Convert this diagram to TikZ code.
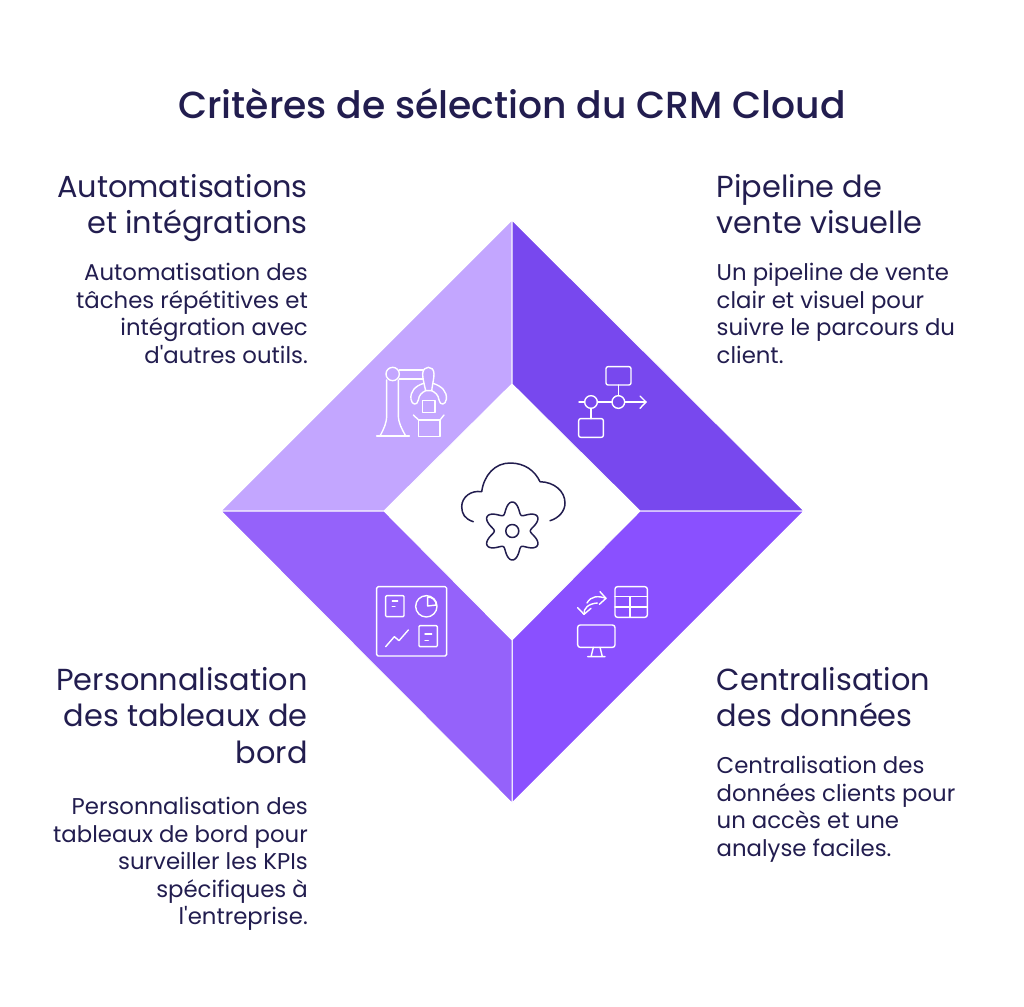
\documentclass[tikz,border=0pt]{standalone}
\usepackage{fontspec}
\setmainfont{Poppins}
\newfontfamily\medfont{Poppins Medium}
\definecolor{inkblue}{HTML}{221D4F}
\definecolor{lilac}{HTML}{C3A6FF}
\definecolor{violetA}{HTML}{7848EE}
\definecolor{violetB}{HTML}{8A50FF}
\definecolor{violetC}{HTML}{9562FA}
\tikzset{
  titletext/.style={inkblue,anchor=base,font=\medfont\fontsize{37.7}{44}\selectfont},
  headtext/.style={inkblue,anchor=north,inner sep=0pt,font=\fontsize{30.4}{36.5}\selectfont},
  bodytext/.style={inkblue,anchor=north,inner sep=0pt,font=\fontsize{22.8}{27.5}\selectfont},
  leftside/.style={anchor=north east,align=right},
  rightside/.style={anchor=north west,align=left},
  sector/.style={draw=white,line width=1pt,line join=miter},
  iconline/.style={draw=white,line width=1.4pt,line cap=round,line join=round},
  darkline/.style={draw=inkblue,line width=1.5pt,line cap=round,line join=round},
}
\begin{document}
\begin{tikzpicture}[x=1pt,y=-1pt]
  \useasboundingbox (0,0) rectangle (1024,1006);
  \fill[white] (0,0) rectangle (1024,1006);

  % four sectors
  \filldraw[sector,fill=lilac] (512,220) -- (512,384) -- (384,511) -- (221,511) -- cycle;
  \filldraw[sector,fill=violetA] (512,220) -- (804,511) -- (640,511) -- (512,384) -- cycle;
  \filldraw[sector,fill=violetB] (804,511) -- (512,803) -- (512,640) -- (640,511) -- cycle;
  \filldraw[sector,fill=violetC] (512,803) -- (221,511) -- (384,511) -- (512,640) -- cycle;

  % texts
  \node[titletext] (title) at (512,118) {Critères de sélection du CRM Cloud};

  \node[headtext,leftside] (autohead) at (308,174) {Automatisations\\et intégrations};
  \node[bodytext,leftside] (autobody) at (308,263) {Automatisation des\\tâches répétitives et\\intégration avec\\d\textquotesingle autres outils.};

  \node[headtext,rightside] (pipehead) at (716.5,174) {Pipeline de\\vente visuelle};
  \node[bodytext,rightside] (pipebody) at (716.5,263) {Un pipeline de vente\\clair et visuel pour\\suivre le parcours du\\client.};

  \node[headtext,leftside] (boardhead) at (308,667) {Personnalisation\\des tableaux de\\bord};
  \node[bodytext,leftside] (boardbody) at (308,797) {Personnalisation des\\tableaux de bord pour\\surveiller les KPIs\\spécifiques à\\l\textquotesingle entreprise.};

  \node[headtext,rightside] (datahead) at (716.5,667) {Centralisation\\des données};
  \node[bodytext,rightside] (databody) at (716.5,756) {Centralisation des\\données clients pour\\un accès et une\\analyse faciles.};

  % cloud and gear
  \draw[darkline] (473.3,521.7) .. controls (465,519) and (461.7,514) .. (461.7,506.7)
    .. controls (461.7,497) and (471,490) .. (481.7,491.7)
    .. controls (484,475) and (495,463) .. (510,463)
    .. controls (525,463) and (535,471) .. (540,481.7)
    .. controls (554,482) and (565,491) .. (565,503)
    .. controls (565,511) and (559,518) .. (550,520.7);
  \draw[darkline] plot[domain=0:360,samples=145,smooth] ({512.3+(23.5+5.5*cos(6*(\x-90)))*cos(\x)},{531+(23.5+5.5*cos(6*(\x-90)))*sin(\x)}) -- cycle;
  \draw[darkline] (512.3,531) circle (6.5);

  % robot arm
  \begin{scope}[shift={(360,350)},x=0.3333pt,y=-0.3333pt]
    \draw[iconline] (50,258) -- (148,258);
    \draw[iconline] (60,258) .. controls (72,235) and (80,220) .. (80,195) -- (80,90);
    \draw[iconline] (137,258) .. controls (125,235) and (115,220) .. (115,195) -- (115,90);
    \draw[iconline] (98,72) circle (20);
    \draw[iconline] (118,60) -- (190,60) (118,87) -- (190,87);
    \draw[iconline] (197,122) .. controls (192,100) and (188,85) .. (188,72)
      .. controls (188,58) and (197,52) .. (205,52)
      .. controls (214,52) and (222,58) .. (222,72)
      .. controls (222,85) and (218,100) .. (215,122) -- cycle;
    \draw[iconline] (191,100) .. controls (165,108) and (150,125) .. (153,148)
      .. controls (155,165) and (172,168) .. (175,150)
      .. controls (177,135) and (185,128) .. (197,122);
    \draw[iconline] (219,100) .. controls (245,108) and (262,125) .. (259,148)
      .. controls (257,165) and (240,168) .. (237,150)
      .. controls (235,135) and (227,128) .. (215,122);
    \draw[iconline] (188,152) rectangle (225,188);
    \draw[iconline] (176,210) rectangle (240,260);
    \draw[iconline] (160,195) -- (176,210) (252,195) -- (240,210);
  \end{scope}

  % pipeline
  \begin{scope}[shift={(560,350)},x=0.3333pt,y=-0.3333pt]
    \draw[iconline,rounded corners=2pt] (138,50) rectangle (213,105);
    \draw[iconline,rounded corners=2pt] (56,206) rectangle (130,262);
    \draw[iconline] (175,105) -- (175,137);
    \draw[iconline] (93,175) -- (93,206);
    \draw[iconline] (175,156) circle (19);
    \draw[iconline] (93,156) circle (19);
    \draw[iconline] (57,156) -- (74,156) (112,156) -- (156,156) (194,156) -- (258,156);
    \draw[iconline] (240,138) -- (258,156) -- (240,175);
  \end{scope}

  % dashboard
  \begin{scope}[shift={(365,575)},x=0.3333pt,y=-0.3333pt]
    \draw[iconline,rounded corners=1.5pt] (35,35) rectangle (245,243);
    \draw[iconline,rounded corners=1pt] (62,62) rectangle (117,125);
    \draw[iconline] (82,78) -- (98,78) (82,95) -- (90,95);
    \draw[iconline] (184,94) circle (32);
    \draw[iconline] (188,66) -- (188,93) -- (214,90) .. controls (213,76) and (202,66) .. (188,66);
    \draw[iconline] (62,215) -- (88,185) -- (102,197) -- (130,165);
    \draw[iconline,rounded corners=1pt] (162,152) rectangle (217,215);
    \draw[iconline] (180,177) -- (200,177) (180,197) -- (190,197);
  \end{scope}

  % data exchange
  \begin{scope}[shift={(565,575)},x=0.3333pt,y=-0.3333pt]
    \draw[iconline,rounded corners=2.5pt] (150,35) rectangle (247,127);
    \draw[iconline] (150,65) -- (247,65) (150,96) -- (247,96) (195,65) -- (195,127);
    \draw[iconline,rounded corners=2.5pt] (38,150) rectangle (150,217);
    \draw[iconline] (85,217) -- (78,245) (105,217) -- (112,245) (68,245) -- (120,245);
    \draw[iconline] (123,70) .. controls (100,62) and (78,62) .. (66,84);
    \draw[iconline] (105,50) -- (123,70) -- (103,88);
    \draw[iconline] (57,118) .. controls (55,100) and (70,86) .. (97,84);
    \draw[iconline] (38,98) -- (57,118) -- (78,100);
  \end{scope}
\end{tikzpicture}
\end{document}
